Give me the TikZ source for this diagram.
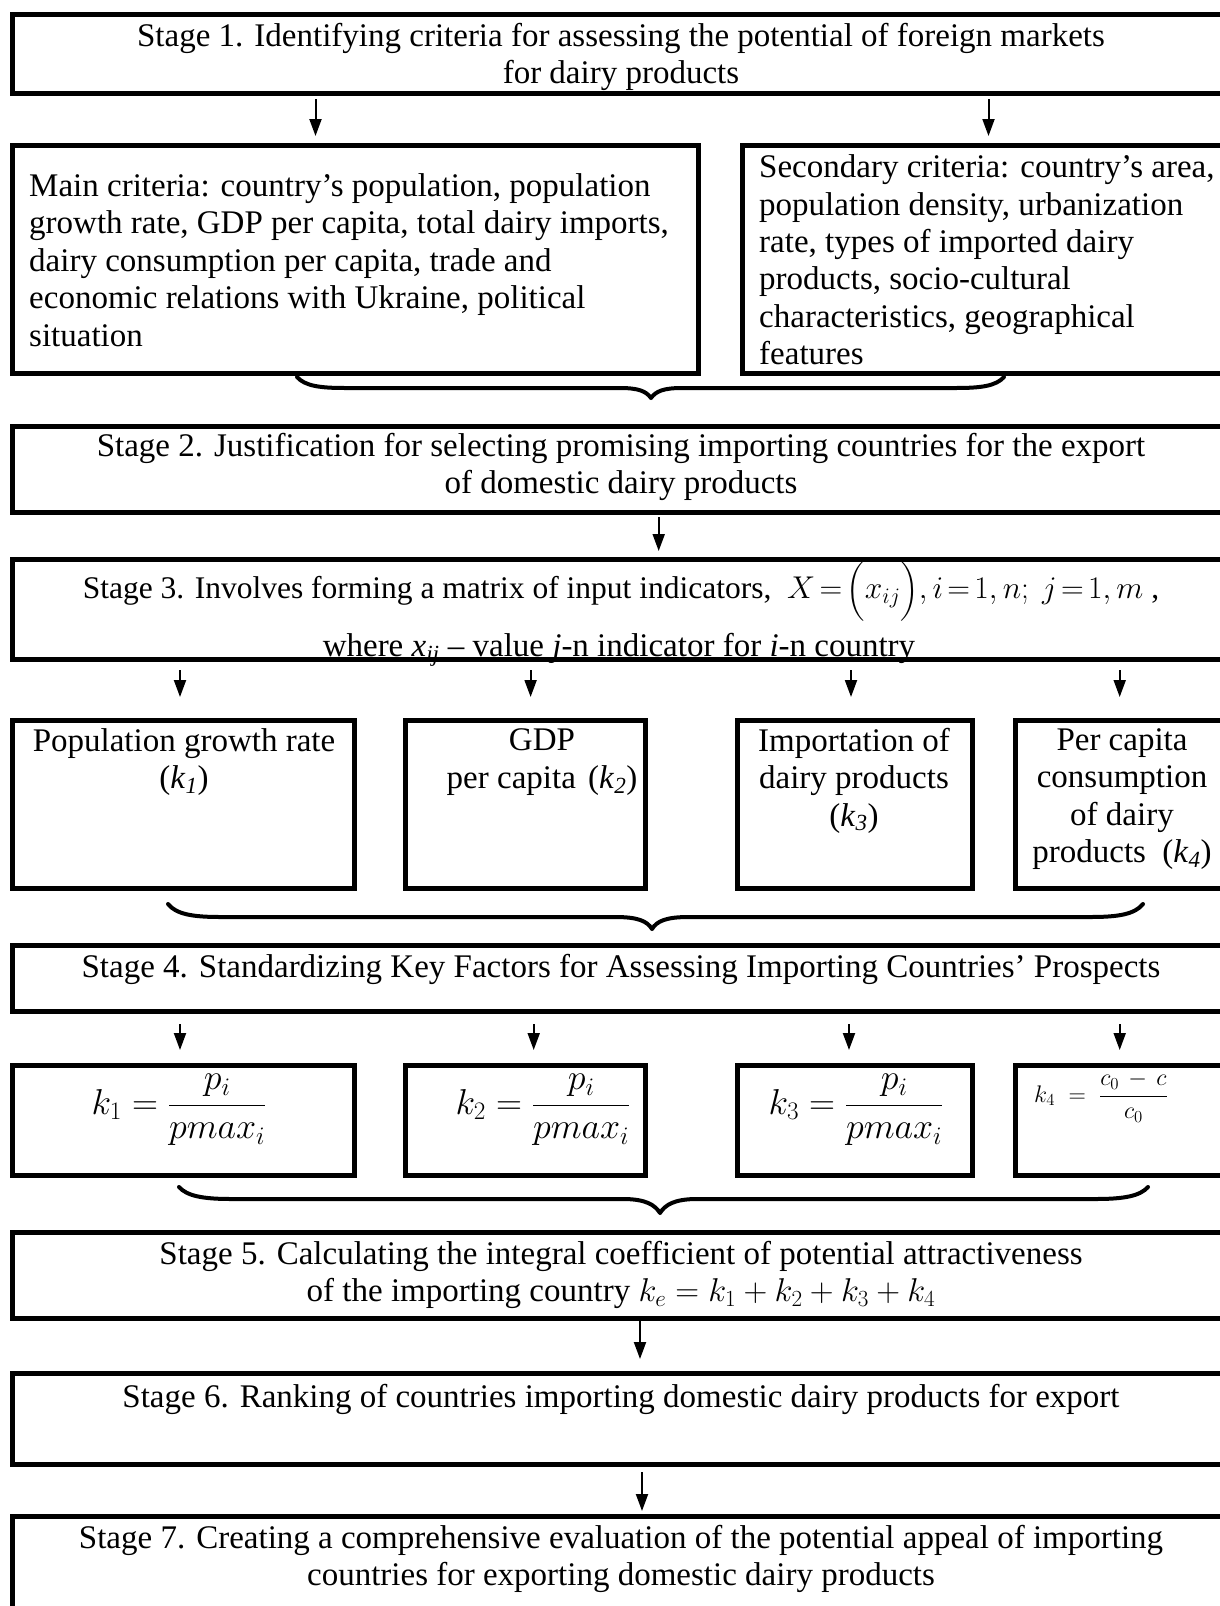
\RequirePackage{fix-cm}
\documentclass[tikz,border=0pt]{standalone}
\usepackage{fontspec}
\setmainfont{Liberation Serif}
\usepackage{amsmath}
\usetikzlibrary{arrows.meta}
\begin{document}
\begin{tikzpicture}[x=1pt,y=-1pt,
  box/.style={draw, line width=5pt, rectangle, inner sep=0pt, outer sep=0pt, anchor=north west},
  txt/.style={font=\fontsize{33}{37.4}\selectfont, inner sep=0pt, align=center},
  ltxt/.style={font=\fontsize{33}{37.4}\selectfont, inner sep=0pt, align=left, anchor=west},
  arr/.style={line width=2pt, -{Triangle[width=12pt,length=17pt]}},
  brc/.style={line width=4pt, line cap=round, line join=round}]
\useasboundingbox (0,0) rectangle (1220,1606);
\clip (0,0) rectangle (1220,1606);

% boxes
\node[box, minimum width=1224, minimum height=79] (s1) at (12,14) {};
\node[box, minimum width=686, minimum height=228] (main) at (12,145) {};
\node[box, minimum width=494, minimum height=228] (sec) at (742,145) {};
\node[box, minimum width=1224, minimum height=86] (s2) at (12,426) {};
\node[box, minimum width=1224, minimum height=100] (s3) at (12,559) {};
\node[box, minimum width=342, minimum height=168] (b1) at (12,720) {};
\node[box, minimum width=240, minimum height=168] (b2) at (405,720) {};
\node[box, minimum width=235, minimum height=168] (b3) at (737,720) {};
\node[box, minimum width=221, minimum height=168] (b4) at (1015,720) {};
\node[box, minimum width=1224, minimum height=66] (s4) at (12,945) {};
\node[box, minimum width=342, minimum height=110] (f1) at (12,1065) {};
\node[box, minimum width=240, minimum height=110] (f2) at (405,1065) {};
\node[box, minimum width=235, minimum height=110] (f3) at (737,1065) {};
\node[box, minimum width=221, minimum height=110] (f4) at (1015,1065) {};
\node[box, minimum width=1224, minimum height=86] (s5) at (12,1232) {};
\node[box, minimum width=1224, minimum height=91] (s6) at (12,1373) {};
\node[box, minimum width=1224, minimum height=124] (s7) at (12,1516) {};

% texts
\node[txt] (t1) at (621,57) {Stage 1. Identifying criteria for assessing the potential of foreign markets\\for dairy products};
\node[ltxt] (tmain) at (29,260) {Main criteria: country's population, population\\growth rate, GDP per capita, total dairy imports,\\dairy consumption per capita, trade and\\economic relations with Ukraine, political\\situation};
\node[ltxt] (tsec) at (759,260) {Secondary criteria: country's area,\\population density, urbanization\\rate, types of imported dairy\\products, socio-cultural\\characteristics, geographical\\features};
\node[txt] (t2) at (621,467) {Stage 2. Justification for selecting promising importing countries for the export\\of domestic dairy products};
\node[txt, font=\fontsize{31.5}{37}\selectfont] (t3a) at (621,591) {\thickmuskip=2.5mu\medmuskip=2mu Stage 3. Involves forming a matrix of input indicators, \ $X=\Bigl(x_{ij}\Bigr), i=1,n;\ j=1,m$ ,};
\node[txt] (t3b) at (619,650) {where \textit{x}\textsubscript{\textit{ij}} -- value \textit{j}-n indicator for \textit{i}-n country};
\node[txt] (tb1) at (184,762) {Population growth rate\\(\textit{k}\textsubscript{\textit{1}})};
\node[txt] (tb2) at (542,762) {GDP\\per capita\hspace{4pt} (\textit{k}\textsubscript{\textit{2}})};
\node[txt] (tb3) at (854,780.5) {Importation of\\dairy products\\(\textit{k}\textsubscript{\textit{3}})};
\node[txt] (tb4) at (1122,799) {Per capita\\consumption\\of dairy\\products \ (\textit{k}\textsubscript{\textit{4}})};
\node[txt] (t4) at (621,969) {Stage 4. Standardizing Key Factors for Assessing Importing Countries' Prospects};
\node[txt, font=\fontsize{36}{42}\selectfont] (ff1) at (179,1110) {$k_1=\dfrac{p_i}{pmax_i}$};
\node[txt, font=\fontsize{36}{42}\selectfont] (ff2) at (543,1110) {$k_2=\dfrac{p_i}{pmax_i}$};
\node[txt, font=\fontsize{36}{42}\selectfont] (ff3) at (856,1110) {$k_3=\dfrac{p_i}{pmax_i}$};
\node[txt, font=\fontsize{24}{29}\selectfont] (ff4) at (1101,1097) {$k_4\;=\;\dfrac{c_0\,-\,c}{c_0}$};
\node[txt] (t5) at (621,1275) {Stage 5. Calculating the integral coefficient of potential attractiveness\\of the importing country $k_e=k_1+k_2+k_3+k_4$};
\node[txt] (t6) at (621,1399) {Stage 6. Ranking of countries importing domestic dairy products for export};
\node[txt] (t7) at (621,1559) {Stage 7. Creating a comprehensive evaluation of the potential appeal of importing\\countries for exporting domestic dairy products};

% arrow x positions
\coordinate (xa1) at (315.5,0);
\coordinate (xa2) at (988.5,0);
\coordinate (xa3) at (658.7,0);
\coordinate (xb1) at (180,0);
\coordinate (xb2) at (530.6,0);
\coordinate (xb3) at (851,0);
\coordinate (xb4) at (1119.7,0);
\coordinate (xc1) at (180,0);
\coordinate (xc2) at (533.7,0);
\coordinate (xc3) at (849,0);
\coordinate (xc4) at (1119.7,0);
\coordinate (xd1) at (640,0);
\coordinate (xd2) at (642,0);

\draw[arr, shorten <=6pt, shorten >=9pt] (s1.south -| xa1) -- (main.north -| xa1);
\draw[arr, shorten <=6pt, shorten >=9pt] (s1.south -| xa2) -- (sec.north -| xa2);
\draw[arr, shorten <=5pt, shorten >=8pt] (s2.south -| xa3) -- (s3.north -| xa3);
\draw[arr, shorten <=11pt, shorten >=23pt] (s3.south -| xb1) -- (b1.north -| xb1);
\draw[arr, shorten <=11pt, shorten >=23pt] (s3.south -| xb2) -- (b2.north -| xb2);
\draw[arr, shorten <=11pt, shorten >=23pt] (s3.south -| xb3) -- (b3.north -| xb3);
\draw[arr, shorten <=11pt, shorten >=23pt] (s3.south -| xb4) -- (b4.north -| xb4);
\draw[arr, shorten <=13pt, shorten >=15pt] (s4.south -| xc1) -- (f1.north -| xc1);
\draw[arr, shorten <=13pt, shorten >=15pt] (s4.south -| xc2) -- (f2.north -| xc2);
\draw[arr, shorten <=13pt, shorten >=15pt] (s4.south -| xc3) -- (f3.north -| xc3);
\draw[arr, shorten <=13pt, shorten >=15pt] (s4.south -| xc4) -- (f4.north -| xc4);
\draw[arr, shorten <=3pt, shorten >=14pt] (s5.south -| xd1) -- (s6.north -| xd1);
\draw[arr, shorten <=8pt, shorten >=5pt] (s6.south -| xd2) -- (s7.north -| xd2);

% braces
\draw[brc] (297,377) .. controls (305,386) and (320,388) .. (345,388) -- (620,388)
  .. controls (638,388) and (646,391) .. (651,398)
  .. controls (656,391) and (664,388) .. (682,388) -- (956,388)
  .. controls (981,388) and (996,386) .. (1004,377);
\draw[brc] (168,904) .. controls (176,914) and (192,917) .. (220,917) -- (615,917)
  .. controls (638,917) and (647,921) .. (652,929)
  .. controls (657,921) and (666,917) .. (689,917) -- (1091,917)
  .. controls (1119,917) and (1135,914) .. (1143,904);
\draw[brc] (179,1187) .. controls (187,1196) and (203,1199) .. (231,1199) -- (623,1199)
  .. controls (646,1199) and (655,1205) .. (660,1213)
  .. controls (665,1205) and (674,1199) .. (697,1199) -- (1096,1199)
  .. controls (1124,1199) and (1140,1196) .. (1148,1187);
\end{tikzpicture}
\end{document}
